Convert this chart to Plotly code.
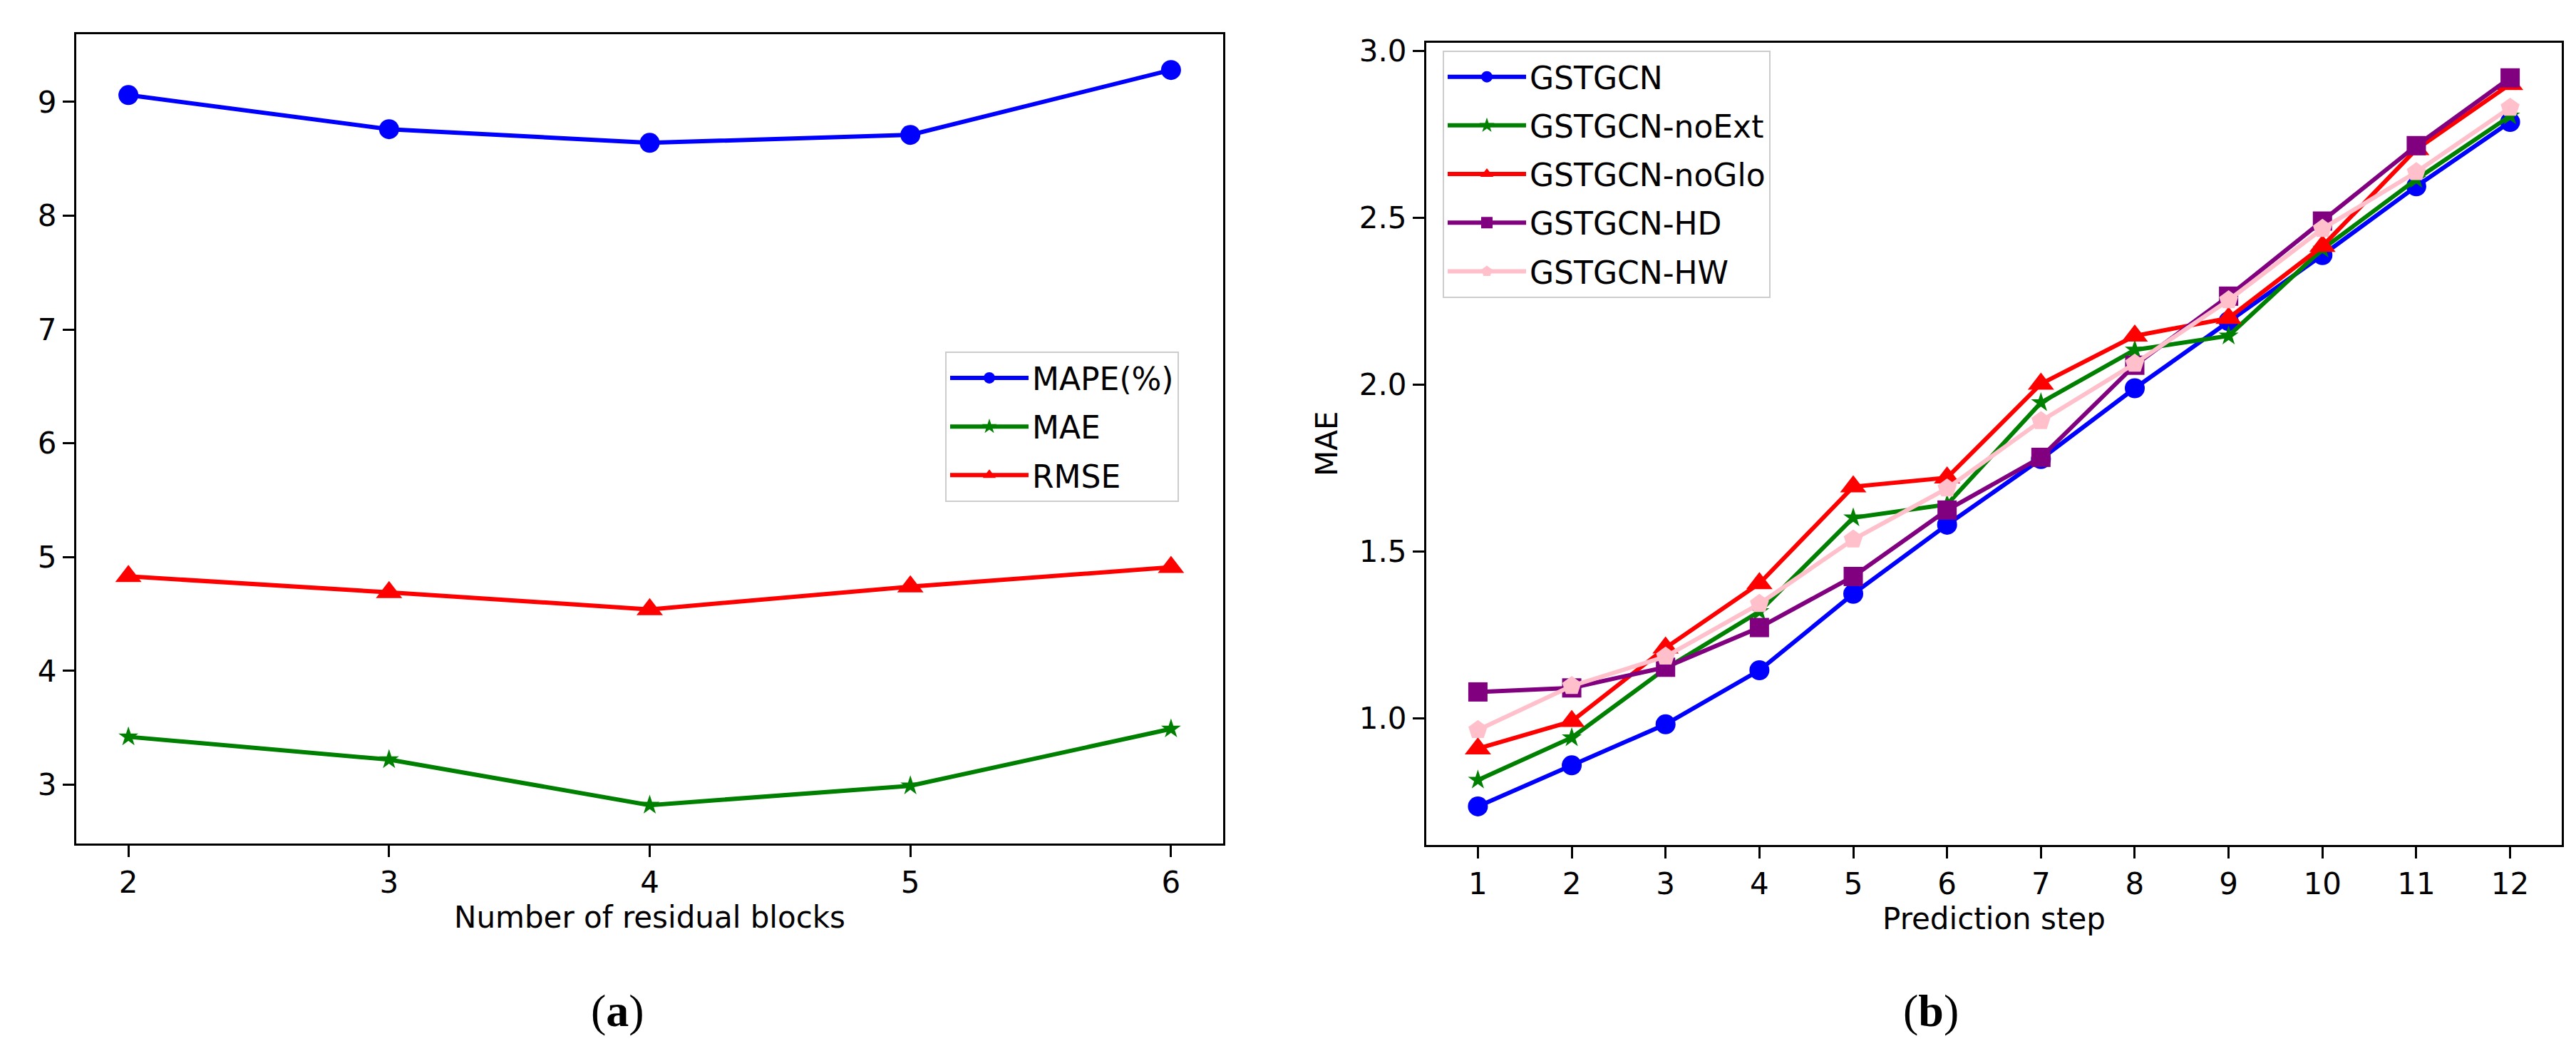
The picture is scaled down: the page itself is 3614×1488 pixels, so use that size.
import plotly.graph_objects as go

# ---- Data: panel (a) ----
blocks = [2, 3, 4, 5, 6]
mape = [9.06, 8.76, 8.64, 8.71, 9.28]
mae_a = [3.42, 3.22, 2.82, 2.99, 3.49]
rmse = [4.83, 4.69, 4.54, 4.74, 4.91]

# ---- Data: panel (b) ----
steps = [1, 2, 3, 4, 5, 6, 7, 8, 9, 10, 11, 12]
gstgcn = [0.736, 0.859, 0.982, 1.144, 1.373, 1.580, 1.777, 1.989, 2.19, 2.388, 2.594, 2.787]
noext = [0.815, 0.942, 1.149, 1.320, 1.601, 1.641, 1.946, 2.104, 2.146, 2.406, 2.615, 2.805]
noglo = [0.909, 0.991, 1.211, 1.404, 1.694, 1.721, 2.002, 2.146, 2.199, 2.415, 2.705, 2.900]
hd = [1.079, 1.091, 1.153, 1.272, 1.425, 1.624, 1.782, 2.058, 2.265, 2.490, 2.716, 2.919]
hw = [0.965, 1.097, 1.185, 1.343, 1.536, 1.689, 1.891, 2.063, 2.253, 2.467, 2.637, 2.830]

W, H = 3614, 1488
FONT = "DejaVu Sans"
FS = 42
LW = 6

fig = go.Figure()

def add(x, y, name, color, symbol, size, xa, ya, legend):
    fig.add_trace(go.Scatter(
        x=x, y=y, name=name, mode="lines+markers",
        line=dict(color=color, width=LW),
        marker=dict(color=color, symbol=symbol, size=size, line=dict(width=0)),
        xaxis=xa, yaxis=ya, legend=legend, legendgroup=name,
    ))

add(blocks, mape, "MAPE(%)", "#0000ff", "circle", 28, "x", "y", "legend")
add(blocks, mae_a, "MAE", "#008000", "star", 21, "x", "y", "legend")
add(blocks, rmse, "RMSE", "#ff0000", "triangle-up", 32, "x", "y", "legend")

add(steps, gstgcn, "GSTGCN", "#0000ff", "circle", 28, "x2", "y2", "legend2")
add(steps, noext, "GSTGCN-noExt", "#008000", "star", 21, "x2", "y2", "legend2")
add(steps, noglo, "GSTGCN-noGlo", "#ff0000", "triangle-up", 32, "x2", "y2", "legend2")
add(steps, hd, "GSTGCN-HD", "#800080", "square", 27, "x2", "y2", "legend2")
add(steps, hw, "GSTGCN-HW", "#ffc0cb", "pentagon", 28, "x2", "y2", "legend2")

axis_common = dict(
    showline=True, linecolor="black", linewidth=3, mirror=True,
    ticks="outside", ticklen=16, tickwidth=3, tickcolor="black",
    showgrid=False, zeroline=False,
    tickfont=dict(family=FONT, size=FS, color="black"),
)

legend_common = dict(
    font=dict(family=FONT, size=44, color="black"),
    bgcolor="rgba(255,255,255,0.8)", bordercolor="#cccccc", borderwidth=2,
    xanchor="left", yanchor="top", itemwidth=110, tracegroupgap=8,
    itemsizing="trace",
)

fig.update_layout(
    width=W, height=H, autosize=False,
    margin=dict(l=0, r=0, t=0, b=0),
    paper_bgcolor="white", plot_bgcolor="white",
    showlegend=True,
    xaxis=dict(domain=[99 / W, 1708 / W], range=[1.8, 6.2], tickvals=blocks,
               title=dict(text="Number of residual blocks", font=dict(family=FONT, size=FS, color="black"), standoff=8),
               anchor="y", **axis_common),
    yaxis=dict(domain=[1 - 1172 / H, 1 - 27 / H], range=[2.484, 9.596], tickvals=[3, 4, 5, 6, 7, 8, 9],
               anchor="x", **axis_common),
    xaxis2=dict(domain=[1993 / W, 3586 / W], range=[0.45, 12.55], tickvals=steps,
                title=dict(text="Prediction step", font=dict(family=FONT, size=FS, color="black"), standoff=8),
                anchor="y2", **axis_common),
    yaxis2=dict(domain=[1 - 1174 / H, 1 - 39 / H], range=[0.621, 3.025],
                tickvals=[1.0, 1.5, 2.0, 2.5, 3.0], tickformat=".1f",
                title=dict(text="MAE", font=dict(family=FONT, size=FS, color="black"), standoff=18),
                anchor="x2", **axis_common),
    legend=dict(x=1318 / W, y=1 - 476 / H, **legend_common),
    legend2=dict(x=2016 / W, y=1 - 50 / H, **legend_common),
    annotations=[
        dict(text="(<b>a</b>)", x=858 / W, y=1 - 1409 / H, xref="paper", yref="paper",
             showarrow=False, xanchor="center", yanchor="middle",
             font=dict(family="Liberation Serif", size=64, color="black")),
        dict(text="(<b>b</b>)", x=2701 / W, y=1 - 1409 / H, xref="paper", yref="paper",
             showarrow=False, xanchor="center", yanchor="middle",
             font=dict(family="Liberation Serif", size=64, color="black")),
    ],
)

fig.write_html("out.html")
